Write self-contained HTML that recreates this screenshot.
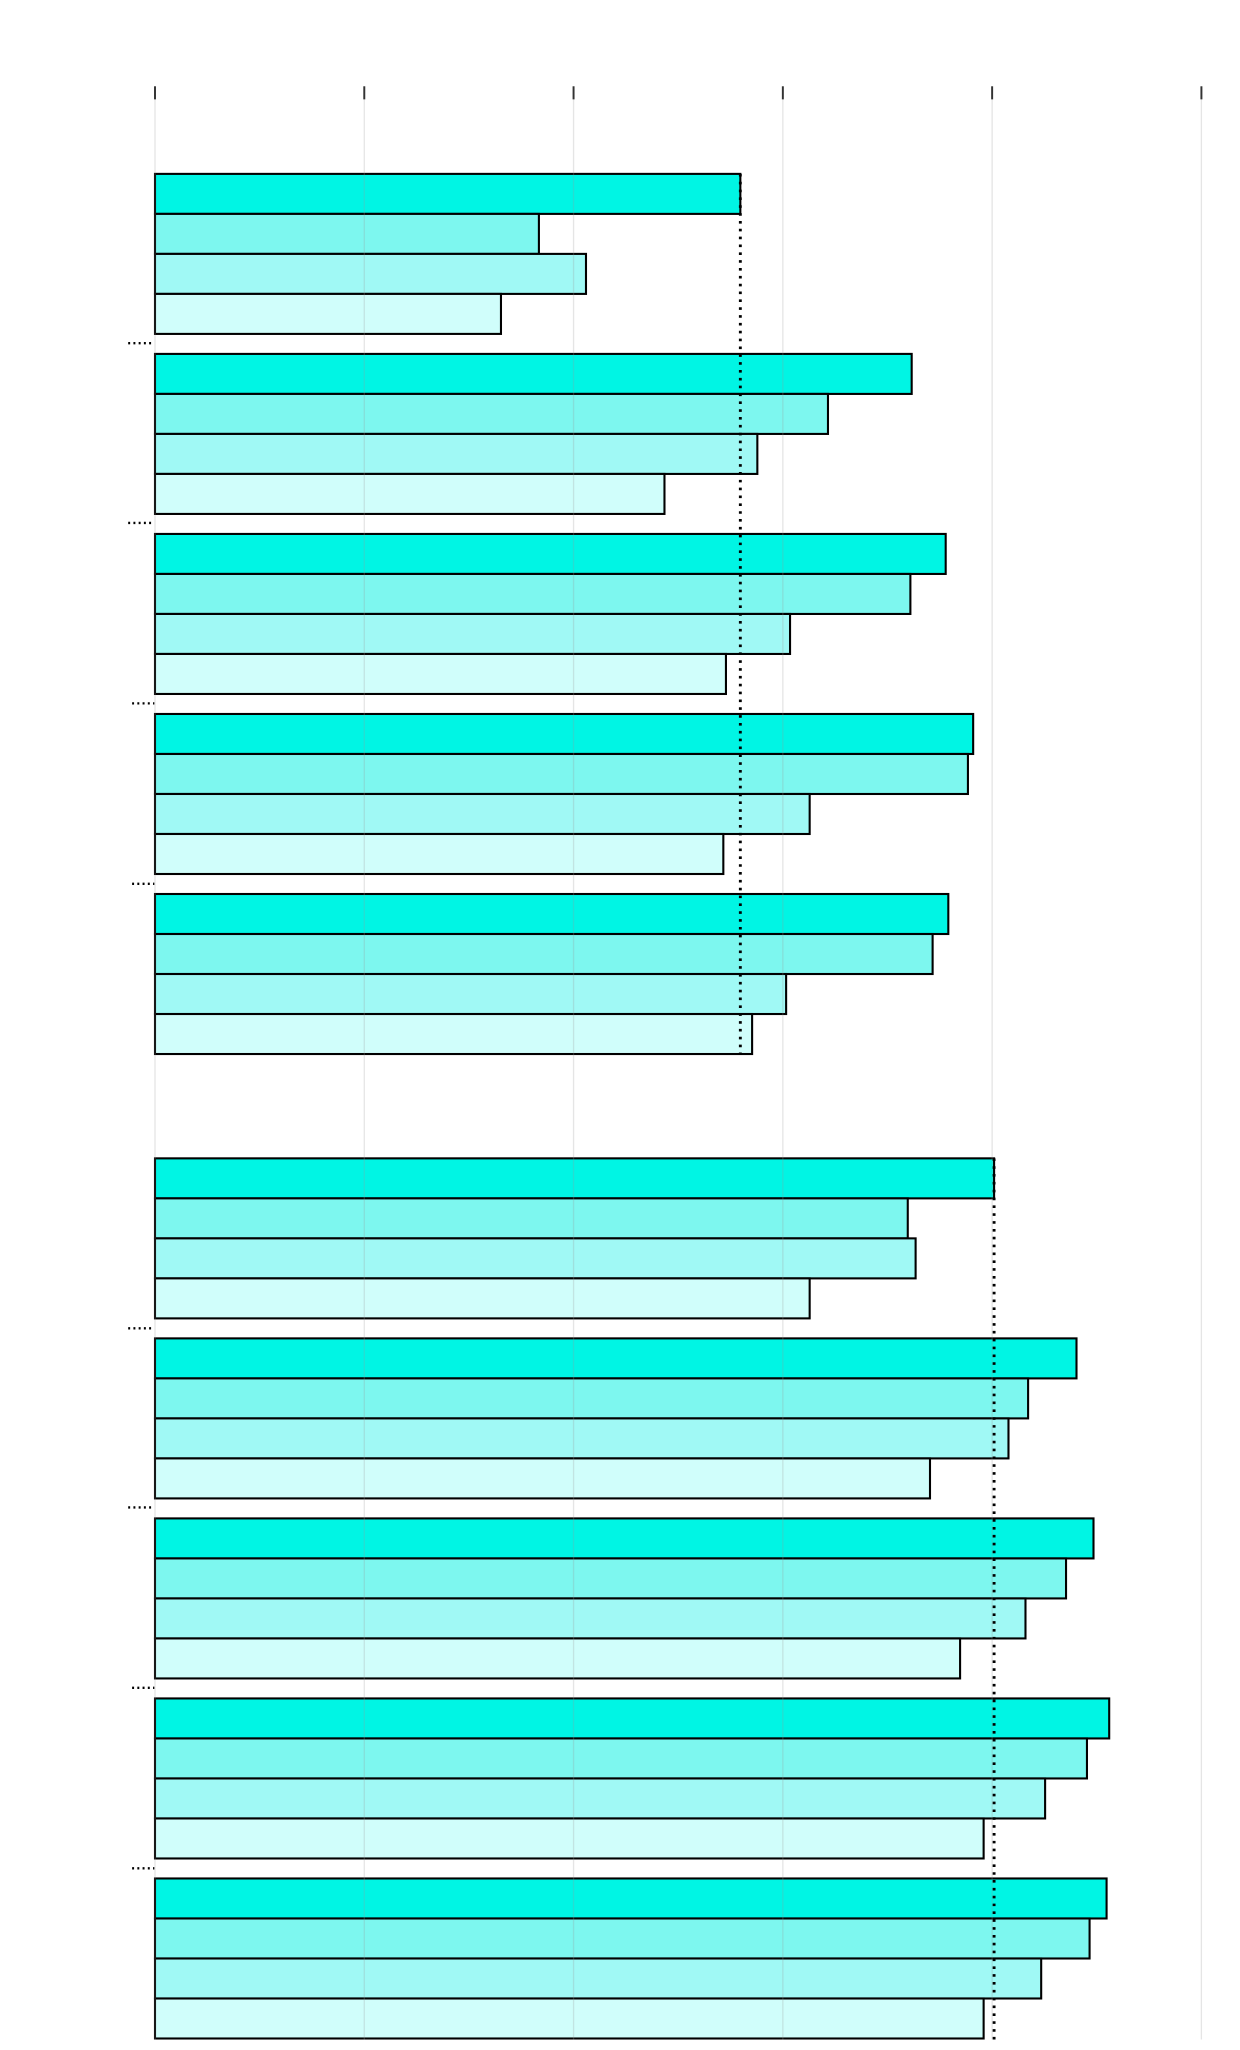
<!DOCTYPE html>
<html><head><meta charset="utf-8"><style>
html,body{margin:0;padding:0;background:#fff;}
svg{display:block;}
</style></head><body>
<svg width="1240" height="2050" viewBox="0 0 948 1568" preserveAspectRatio="none" xmlns="http://www.w3.org/2000/svg">
<rect width="948" height="1568" fill="#fff"/>
<g stroke="#000" stroke-width="1.6">
<rect x="118.5" y="133" width="447.5" height="30.6" fill="#00f5e4"/>
<rect x="118.5" y="163.6" width="293.5" height="30.6" fill="#7df7ef"/>
<rect x="118.5" y="194.2" width="329.5" height="30.6" fill="#a0f9f5"/>
<rect x="118.5" y="224.8" width="264.5" height="30.6" fill="#d0fefb"/>
<rect x="118.5" y="270.7" width="578.5" height="30.6" fill="#00f5e4"/>
<rect x="118.5" y="301.3" width="514.5" height="30.6" fill="#7df7ef"/>
<rect x="118.5" y="331.9" width="460.5" height="30.6" fill="#a0f9f5"/>
<rect x="118.5" y="362.5" width="389.5" height="30.6" fill="#d0fefb"/>
<rect x="118.5" y="408.4" width="604.5" height="30.6" fill="#00f5e4"/>
<rect x="118.5" y="439" width="577.5" height="30.6" fill="#7df7ef"/>
<rect x="118.5" y="469.6" width="485.5" height="30.6" fill="#a0f9f5"/>
<rect x="118.5" y="500.2" width="436.5" height="30.6" fill="#d0fefb"/>
<rect x="118.5" y="546.1" width="625.5" height="30.6" fill="#00f5e4"/>
<rect x="118.5" y="576.7" width="621.5" height="30.6" fill="#7df7ef"/>
<rect x="118.5" y="607.3" width="500.5" height="30.6" fill="#a0f9f5"/>
<rect x="118.5" y="637.9" width="434.5" height="30.6" fill="#d0fefb"/>
<rect x="118.5" y="683.8" width="606.5" height="30.6" fill="#00f5e4"/>
<rect x="118.5" y="714.4" width="594.5" height="30.6" fill="#7df7ef"/>
<rect x="118.5" y="745" width="482.5" height="30.6" fill="#a0f9f5"/>
<rect x="118.5" y="775.6" width="456.5" height="30.6" fill="#d0fefb"/>
<rect x="118.5" y="886" width="641.5" height="30.6" fill="#00f5e4"/>
<rect x="118.5" y="916.6" width="575.5" height="30.6" fill="#7df7ef"/>
<rect x="118.5" y="947.2" width="581.5" height="30.6" fill="#a0f9f5"/>
<rect x="118.5" y="977.8" width="500.5" height="30.6" fill="#d0fefb"/>
<rect x="118.5" y="1023.7" width="704.5" height="30.6" fill="#00f5e4"/>
<rect x="118.5" y="1054.3" width="667.5" height="30.6" fill="#7df7ef"/>
<rect x="118.5" y="1084.9" width="652.5" height="30.6" fill="#a0f9f5"/>
<rect x="118.5" y="1115.5" width="592.5" height="30.6" fill="#d0fefb"/>
<rect x="118.5" y="1161.4" width="717.5" height="30.6" fill="#00f5e4"/>
<rect x="118.5" y="1192" width="696.5" height="30.6" fill="#7df7ef"/>
<rect x="118.5" y="1222.6" width="665.5" height="30.6" fill="#a0f9f5"/>
<rect x="118.5" y="1253.2" width="615.5" height="30.6" fill="#d0fefb"/>
<rect x="118.5" y="1299.1" width="729.5" height="30.6" fill="#00f5e4"/>
<rect x="118.5" y="1329.7" width="712.5" height="30.6" fill="#7df7ef"/>
<rect x="118.5" y="1360.3" width="680.5" height="30.6" fill="#a0f9f5"/>
<rect x="118.5" y="1390.9" width="633.5" height="30.6" fill="#d0fefb"/>
<rect x="118.5" y="1436.8" width="727.5" height="30.6" fill="#00f5e4"/>
<rect x="118.5" y="1467.4" width="714.5" height="30.6" fill="#7df7ef"/>
<rect x="118.5" y="1498" width="677.5" height="30.6" fill="#a0f9f5"/>
<rect x="118.5" y="1528.6" width="633.5" height="30.6" fill="#d0fefb"/>
</g>
<g stroke="#999" stroke-opacity="0.25" stroke-width="1">
<line x1="118.5" y1="66" x2="118.5" y2="1560"/>
<line x1="278.5" y1="66" x2="278.5" y2="1560"/>
<line x1="438.5" y1="66" x2="438.5" y2="1560"/>
<line x1="598.5" y1="66" x2="598.5" y2="1560"/>
<line x1="758.5" y1="66" x2="758.5" y2="1560"/>
<line x1="918.5" y1="66" x2="918.5" y2="1560"/>
</g>
<g stroke="#333" stroke-width="1.5">
<line x1="118.5" y1="66" x2="118.5" y2="76"/>
<line x1="278.5" y1="66" x2="278.5" y2="76"/>
<line x1="438.5" y1="66" x2="438.5" y2="76"/>
<line x1="598.5" y1="66" x2="598.5" y2="76"/>
<line x1="758.5" y1="66" x2="758.5" y2="76"/>
<line x1="918.5" y1="66" x2="918.5" y2="76"/>
</g>
<g stroke="#000" stroke-width="2.2" stroke-dasharray="2,4">
<line x1="566" y1="133" x2="566" y2="806"/>
<line x1="760" y1="886" x2="760" y2="1560"/>
</g>
<g stroke="#000" stroke-width="1.8" stroke-dasharray="1.5,2.5">
<line x1="98" y1="262.5" x2="118" y2="262.5"/>
<line x1="98" y1="400" x2="118" y2="400"/>
<line x1="101" y1="538" x2="118" y2="538"/>
<line x1="101" y1="676" x2="118" y2="676"/>
<line x1="98" y1="1016" x2="118" y2="1016"/>
<line x1="98" y1="1153" x2="118" y2="1153"/>
<line x1="101" y1="1291" x2="118" y2="1291"/>
<line x1="101" y1="1429" x2="118" y2="1429"/>
</g>
</svg>
</body></html>
